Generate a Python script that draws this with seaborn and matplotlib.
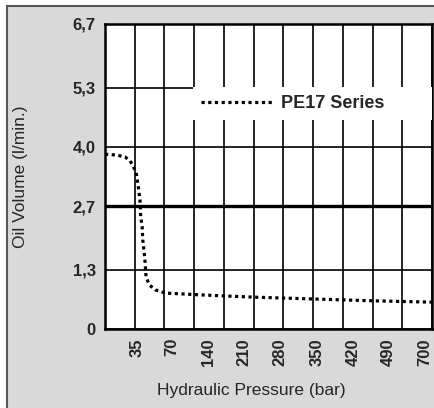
import seaborn as sns
import matplotlib.pyplot as plt
from matplotlib.patches import Rectangle

# curve; x is in grid divisions (the axis is not linear in bar)
x_pos = [0, 0.39, 0.67, 0.84, 0.95, 1.05, 1.12, 1.18, 1.20, 1.25, 1.27, 1.32,
         1.35, 1.38, 1.49, 1.69, 2.02, 3.2, 4.99, 6.98, 8.97, 11]
oil_volume = [3.84, 3.82, 3.78, 3.70, 3.57, 3.43, 3.13, 2.80, 2.47, 2.25, 1.96, 1.67,
              1.45, 1.15, 0.97, 0.86, 0.79, 0.75, 0.70, 0.66, 0.62, 0.59]

pressure_labels = ["35", "70", "140", "210", "280", "350", "420", "490", "700"]
pressure_pos = [1.08, 2.26, 3.47, 4.68, 5.89, 7.14, 8.35, 9.53, 10.74]
grid_cols = list(range(12))

volume_ticks = [0, 1.3, 2.7, 4.0, 5.3, 6.7]
volume_labels = ["0", "1,3", "2,7", "4,0", "5,3", "6,7"]

sns.set_style("white")
plt.rcParams["font.family"] = ["Liberation Sans", "DejaVu Sans"]

fig = plt.figure(figsize=(4.35, 4.08), dpi=100)
fig.patch.set_facecolor("white")
fig.patches.append(Rectangle((7 / 435, -0.1), 1.2, 1 - 6 / 408 + 0.1,
                             transform=fig.transFigure, facecolor="#d9d9d9",
                             edgecolor="#555555", lw=1.5, zorder=-10))

ax = fig.add_axes([105 / 435, 1 - 329 / 408, 327 / 435, 305 / 408])
ax.set_facecolor("white")

sns.lineplot(x=x_pos, y=oil_volume, ax=ax, color="black", sort=False,
             linewidth=2.3, linestyle=(0, (1, 1.1)), label="PE17 Series")

ax.set_xlim(0, 11)
ax.set_ylim(0, 6.7)

# vertical grid on every division, labels sit elsewhere
ax.set_xticks(grid_cols, minor=True)
ax.set_xticks(pressure_pos)
ax.set_xticklabels(pressure_labels, rotation=90, fontweight="bold", fontsize=12)
ax.set_yticks(volume_ticks)
ax.set_yticklabels(volume_labels, fontweight="bold", fontsize=12)
ax.tick_params(which="both", length=0)
ax.tick_params(axis="x", pad=6.5)
ax.tick_params(axis="y", pad=6.5)

ax.grid(which="minor", axis="x", color="black", lw=1.2)
ax.grid(which="major", axis="y", color="black", lw=1.2)
ax.grid(which="major", axis="x", visible=False)
ax.get_ygridlines()[2].set_linewidth(2.4)
ax.set_axisbelow(True)

for sp in ax.spines.values():
    sp.set_visible(True)
    sp.set_color("black")
    sp.set_linewidth(1.8)

ax.set_xlabel("Hydraulic Pressure (bar)", fontsize=12.5, va="center")
ax.xaxis.set_label_coords(0.447, -0.2)
ax.set_ylabel("Oil Volume (l/min.)", fontsize=12.5, va="center")
ax.yaxis.set_label_coords(-0.257, 0.5)

leg = ax.legend(loc="upper left", bbox_to_anchor=(0.269, 0.675, 0.731, 0.118),
                mode="expand", frameon=True, fancybox=False, borderpad=0.45,
                handlelength=3.9, handletextpad=0.55, borderaxespad=0,
                prop={"weight": "bold", "size": 13})
leg.get_frame().set_facecolor("white")
leg.get_frame().set_edgecolor("none")
leg.get_frame().set_alpha(1)

plt.savefig("out.png", dpi=100)
plt.close()
